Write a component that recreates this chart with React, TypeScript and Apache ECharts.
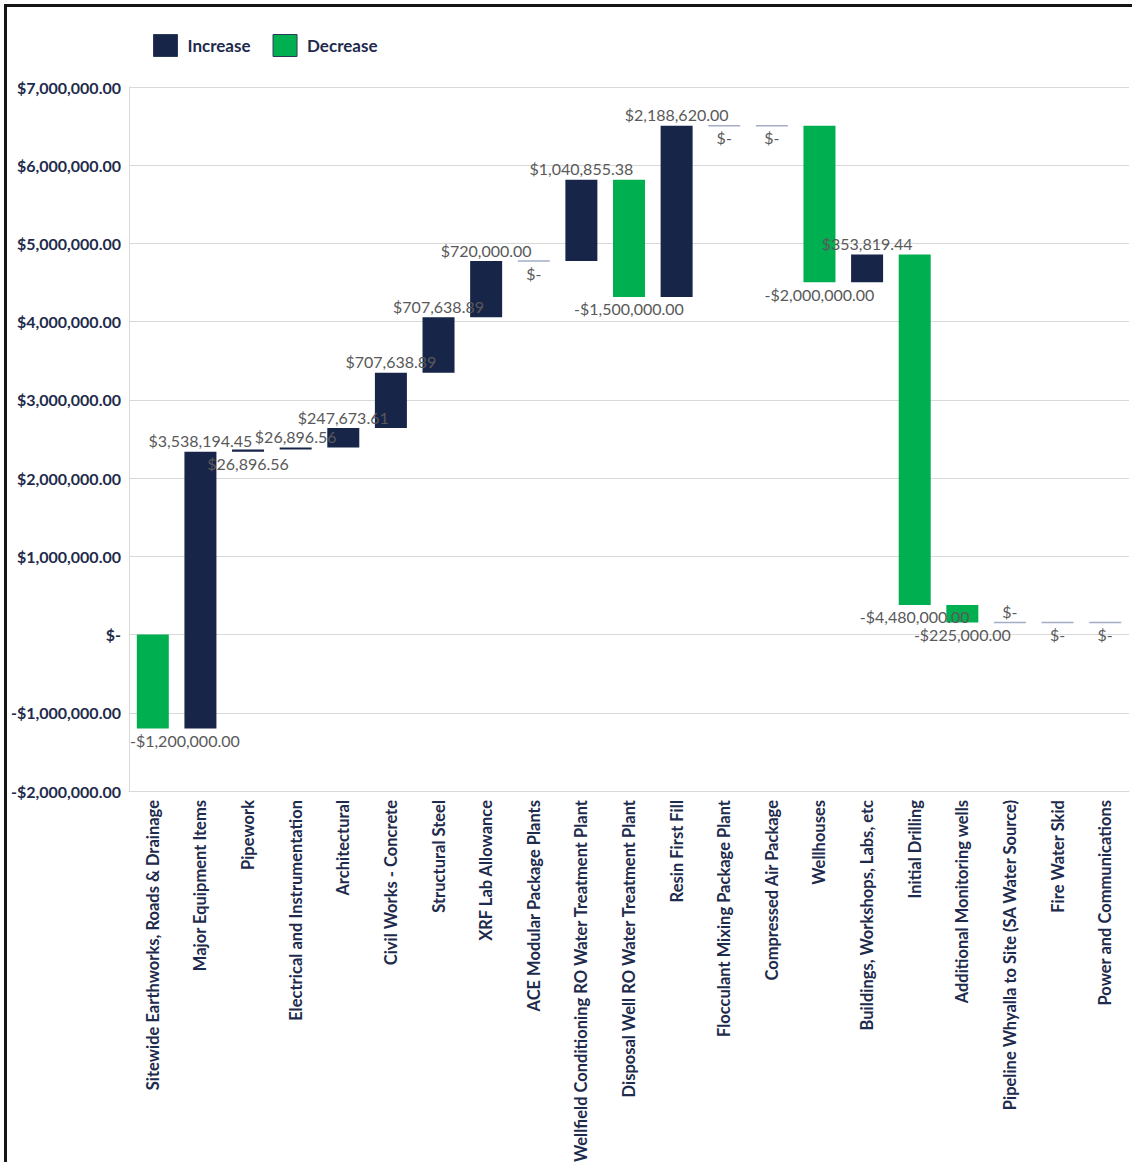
import React, { useEffect, useRef } from "react";
import * as echarts from "echarts";

const categories = [
  "Sitewide Earthworks, Roads & Drainage",
  "Major Equipment Items",
  "Pipework",
  "Electrical and Instrumentation",
  "Architectural",
  "Civil Works - Concrete",
  "Structural Steel",
  "XRF Lab Allowance",
  "ACE Modular Package Plants",
  "Wellfield Conditioning RO Water Treatment Plant",
  "Disposal Well RO Water Treatment Plant",
  "Resin First Fill",
  "Flocculant Mixing Package Plant",
  "Compressed Air Package",
  "Wellhouses",
  "Buildings, Workshops, Labs, etc",
  "Initial Drilling",
  "Additional Monitoring wells",
  "Pipeline Whyalla to Site (SA Water Source)",
  "Fire Water Skid",
  "Power and Communications",
];

const deltas = [
  -1200000, 3538194.45, 26896.56, 26896.56, 247673.61, 707638.89, 707638.89,
  720000, 0, 1040855.38, -1500000, 2188620, 0, 0, -2000000, 353819.44,
  -4480000, -225000, 0, 0, 0,
];

const yTicks = { min: -2000000, max: 7000000, interval: 1000000 };

// labels whose side is opposite of the default (as placed in the original)
const flippedLabels = ["Pipework", "Pipeline Whyalla to Site (SA Water Source)"];

const NAVY = "#172549";
const GREEN = "#00b050";
const TEXT_NAVY = "#1e2b4c";
const LABEL_GRAY = "#595959";
const ZERO_LINE = "#a3adc6";
const GRID = "#d9d9d9";
const BAR_RATIO = 0.672;
const LABEL_FONT = "16px Lato";

const fmt = (v: number) => {
  if (Math.abs(v) < 0.005) return "$-";
  const s = Math.abs(v).toLocaleString("en-US", {
    minimumFractionDigits: 2,
    maximumFractionDigits: 2,
  });
  return (v < 0 ? "-" : "") + "$" + s;
};

let measureCtx: CanvasRenderingContext2D | null = null;
const textWidth = (t: string) => {
  if (!measureCtx) {
    const c = document.createElement("canvas");
    measureCtx = c.getContext("2d");
  }
  if (!measureCtx) return t.length * 8;
  measureCtx.font = LABEL_FONT;
  return measureCtx.measureText(t).width;
};

export default function App() {
  const ref = useRef<HTMLDivElement>(null);

  useEffect(() => {
    if (!ref.current) return;
    const chart = echarts.init(ref.current, undefined, { renderer: "svg" });

    const rows: number[][] = [];
    let cum = 0;
    deltas.forEach((d, i) => {
      const start = cum;
      cum += d;
      rows.push([i, start, cum, d]);
    });
    const incData = rows.filter((r) => r[3] > 0);
    const decData = rows.filter((r) => r[3] < 0);
    const zeroData = rows.filter((r) => r[3] === 0);

    const barRender = (color: string) => (params: any, api: any) => {
      const i = api.value(0);
      const p1 = api.coord([i, api.value(1)]);
      const p2 = api.coord([i, api.value(2)]);
      const w = api.size([1, 0])[0] * BAR_RATIO;
      return {
        type: "rect",
        shape: {
          x: p1[0] - w / 2,
          y: Math.min(p1[1], p2[1]),
          width: w,
          height: Math.abs(p1[1] - p2[1]),
        },
        style: { fill: color },
      };
    };

    chart.setOption({
      animation: false,
      backgroundColor: "#ffffff",
      legend: {
        left: 148,
        top: 29,
        data: ["Increase", "Decrease"],
        icon: "rect",
        itemWidth: 24,
        itemHeight: 22,
        itemGap: 22,
        itemStyle: { borderColor: "#2b3a5a", borderWidth: 1 },
        textStyle: {
          color: TEXT_NAVY,
          fontFamily: "Lato",
          fontWeight: "bold",
          fontSize: 17,
          padding: [0, 0, 0, 5],
        },
      },
      grid: {
        left: 129,
        top: 87,
        width: 1000,
        height: 704,
        outerBoundsMode: "none",
      },
      xAxis: {
        type: "category",
        data: categories,
        axisLine: { onZero: false, lineStyle: { color: GRID } },
        axisTick: { show: false },
        axisLabel: {
          rotate: 90,
          interval: 0,
          margin: 9,
          color: TEXT_NAVY,
          fontFamily: "Lato",
          fontWeight: "bold",
          fontSize: 16.5,
        },
      },
      yAxis: {
        type: "value",
        min: yTicks.min,
        max: yTicks.max,
        interval: yTicks.interval,
        axisLine: { show: true, lineStyle: { color: GRID } },
        axisTick: { show: false },
        splitLine: { lineStyle: { color: GRID } },
        axisLabel: {
          margin: 8,
          color: TEXT_NAVY,
          fontFamily: "Lato",
          fontWeight: "bold",
          fontSize: 16,
          formatter: (v: number) => fmt(v),
        },
      },
      series: [
        {
          name: "Increase",
          type: "custom",
          itemStyle: { color: NAVY },
          encode: { x: 0, y: [1, 2] },
          data: incData,
          renderItem: barRender(NAVY),
        },
        {
          name: "Decrease",
          type: "custom",
          itemStyle: { color: GREEN },
          encode: { x: 0, y: [1, 2] },
          data: decData,
          renderItem: barRender(GREEN),
        },
        {
          name: "zero",
          type: "custom",
          encode: { x: 0, y: [1, 2] },
          data: zeroData,
          renderItem: (params: any, api: any) => {
            const i = api.value(0);
            const p = api.coord([i, api.value(1)]);
            const w = api.size([1, 0])[0] * BAR_RATIO;
            return {
              type: "line",
              shape: { x1: p[0] - w / 2, y1: p[1], x2: p[0] + w / 2, y2: p[1] },
              style: { stroke: ZERO_LINE, lineWidth: 1.5 },
            };
          },
        },
        {
          name: "labels",
          type: "custom",
          z: 10,
          encode: { x: 0, y: [1, 2] },
          data: rows,
          renderItem: (params: any, api: any) => {
            const i = api.value(0);
            const d = api.value(3);
            const p1 = api.coord([i, api.value(1)]);
            const p2 = api.coord([i, api.value(2)]);
            let above = d > 0;
            if (flippedLabels.includes(categories[i])) above = !above;
            const y = above
              ? Math.min(p1[1], p2[1]) - 11
              : Math.max(p1[1], p2[1]) + 12;
            const text = fmt(d);
            const half = textWidth(text) / 2;
            const cs = params.coordSys;
            let x = p1[0];
            if (cs && x - half < cs.x) x = cs.x + half + 1;
            if (cs && x + half > cs.x + cs.width) x = cs.x + cs.width - half;
            return {
              type: "text",
              style: {
                text,
                x,
                y,
                fill: LABEL_GRAY,
                font: LABEL_FONT,
                align: "center",
                verticalAlign: "middle",
              },
            };
          },
        },
      ],
    });

    return () => chart.dispose();
  }, []);

  return (
    <div
      style={{
        position: "absolute",
        left: 0,
        top: 0,
        width: 1132,
        height: 1162,
        overflow: "hidden",
        background: "#fff",
      }}
    >
      <div ref={ref} style={{ position: "absolute", left: 0, top: 0, width: 1132, height: 1162 }} />
      <div
        style={{
          position: "absolute",
          left: 4,
          top: 4,
          width: 1200,
          height: 1200,
          borderTop: "3px solid #151515",
          borderLeft: "3px solid #151515",
          pointerEvents: "none",
        }}
      />
    </div>
  );
}
